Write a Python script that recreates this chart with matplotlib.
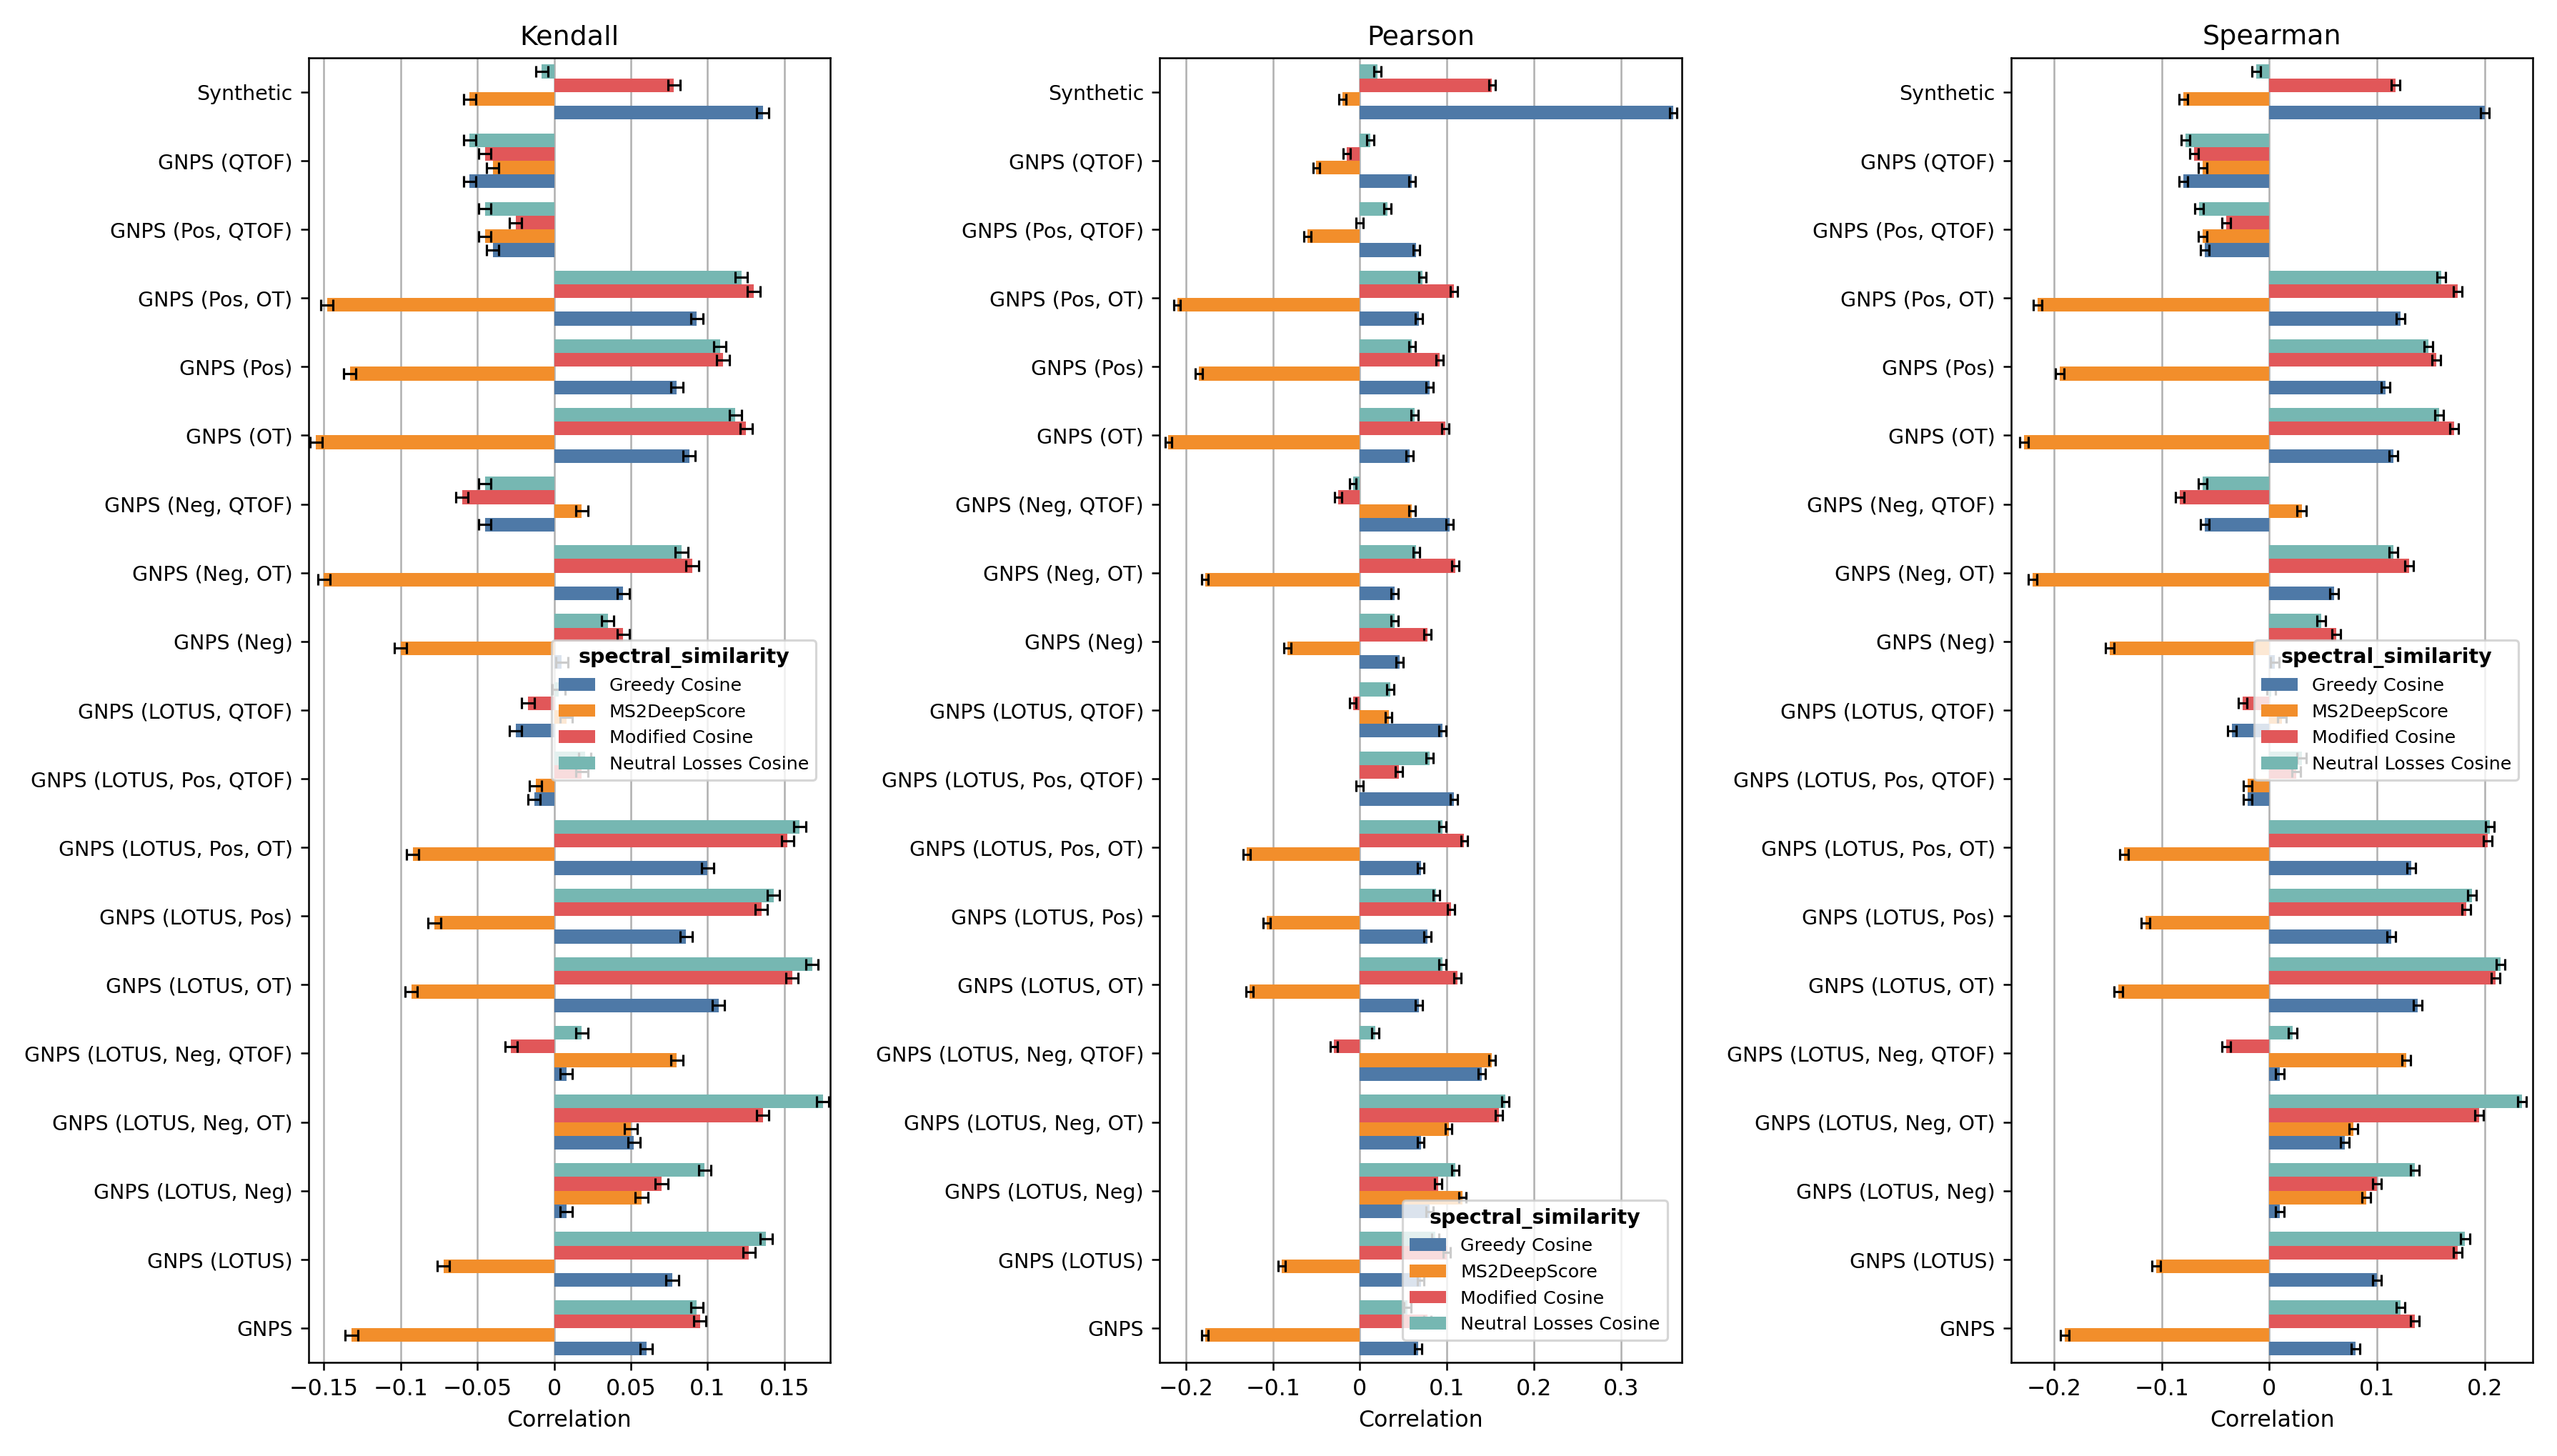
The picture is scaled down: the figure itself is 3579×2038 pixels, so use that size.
import numpy as np
import matplotlib.pyplot as plt

categories = ["Synthetic", "GNPS (QTOF)", "GNPS (Pos, QTOF)", "GNPS (Pos, OT)", "GNPS (Pos)",
              "GNPS (OT)", "GNPS (Neg, QTOF)", "GNPS (Neg, OT)", "GNPS (Neg)",
              "GNPS (LOTUS, QTOF)", "GNPS (LOTUS, Pos, QTOF)", "GNPS (LOTUS, Pos, OT)",
              "GNPS (LOTUS, Pos)", "GNPS (LOTUS, OT)", "GNPS (LOTUS, Neg, QTOF)",
              "GNPS (LOTUS, Neg, OT)", "GNPS (LOTUS, Neg)", "GNPS (LOTUS)", "GNPS"]
series = ["Greedy Cosine", "MS2DeepScore", "Modified Cosine", "Neutral Losses Cosine"]
colors = ["#4e79a7", "#f28e2b", "#e15759", "#76b7b2"]

# columns: Greedy, MS2DeepScore, Modified, Neutral Losses
kendall = [
    [0.136, -0.055, 0.078, -0.008], [-0.055, -0.040, -0.045, -0.055],
    [-0.040, -0.045, -0.025, -0.045], [0.093, -0.148, 0.130, 0.122],
    [0.080, -0.133, 0.110, 0.108], [0.088, -0.155, 0.125, 0.118],
    [-0.045, 0.018, -0.060, -0.045], [0.045, -0.150, 0.090, 0.083],
    [0.005, -0.100, 0.045, 0.035], [-0.025, 0.008, -0.017, 0.003],
    [-0.013, -0.012, 0.018, 0.020], [0.100, -0.092, 0.152, 0.160],
    [0.086, -0.078, 0.135, 0.143], [0.107, -0.093, 0.155, 0.168],
    [0.008, 0.080, -0.028, 0.018], [0.052, 0.050, 0.136, 0.175],
    [0.008, 0.057, 0.070, 0.098], [0.077, -0.072, 0.127, 0.138],
    [0.060, -0.132, 0.095, 0.093]]
pearson = [
    [0.360, -0.020, 0.152, 0.020], [0.060, -0.050, -0.015, 0.012],
    [0.065, -0.060, 0.000, 0.032], [0.068, -0.210, 0.108, 0.072],
    [0.080, -0.185, 0.092, 0.060], [0.057, -0.220, 0.098, 0.063],
    [0.103, 0.060, -0.025, -0.008], [0.040, -0.178, 0.110, 0.065],
    [0.046, -0.083, 0.078, 0.040], [0.095, 0.033, -0.008, 0.035],
    [0.108, 0.000, 0.045, 0.080], [0.070, -0.130, 0.120, 0.095],
    [0.078, -0.107, 0.105, 0.088], [0.068, -0.127, 0.112, 0.095],
    [0.140, 0.152, -0.030, 0.018], [0.070, 0.102, 0.160, 0.167],
    [0.080, 0.118, 0.090, 0.110], [0.070, -0.090, 0.100, 0.087],
    [0.067, -0.178, 0.078, 0.055]]
spearman = [
    [0.200, -0.080, 0.117, -0.012], [-0.080, -0.062, -0.070, -0.078],
    [-0.060, -0.062, -0.040, -0.065], [0.122, -0.215, 0.175, 0.160],
    [0.108, -0.195, 0.155, 0.148], [0.115, -0.228, 0.172, 0.158],
    [-0.060, 0.030, -0.083, -0.062], [0.060, -0.220, 0.130, 0.115],
    [0.005, -0.148, 0.062, 0.048], [-0.035, 0.012, -0.025, 0.002],
    [-0.020, -0.020, 0.025, 0.030], [0.132, -0.135, 0.203, 0.205],
    [0.113, -0.115, 0.183, 0.188], [0.138, -0.140, 0.210, 0.215],
    [0.010, 0.127, -0.040, 0.022], [0.070, 0.078, 0.195, 0.235],
    [0.010, 0.090, 0.100, 0.135], [0.100, -0.105, 0.175, 0.182],
    [0.080, -0.190, 0.135, 0.122]]
err = 0.004

panels = [("Kendall", kendall, (-0.16, 0.18), [-0.15, -0.1, -0.05, 0, 0.05, 0.1, 0.15],
           ["−0.15", "−0.1", "−0.05", "0", "0.05", "0.1", "0.15"], (0.99, 0.5)),
          ("Pearson", pearson, (-0.23, 0.37), [-0.2, -0.1, 0, 0.1, 0.2, 0.3],
           ["−0.2", "−0.1", "0", "0.1", "0.2", "0.3"], (0.99, 0.01)),
          ("Spearman", spearman, (-0.24, 0.245), [-0.2, -0.1, 0, 0.1, 0.2],
           ["−0.2", "−0.1", "0", "0.1", "0.2"], (0.99, 0.5))]

fig, axes = plt.subplots(1, 3, figsize=(15.7, 8.94), dpi=228)
n = len(categories)
ypos = np.arange(n)[::-1]
h = 0.2
for ax, (title, data, xlim, ticks, tlabels, lpos) in zip(axes, panels):
    data = np.array(data)
    for j, s in enumerate(series):
        ax.barh(ypos + (j - 1.5) * h, data[:, j], height=h, color=colors[j], label=s,
                xerr=err, error_kw=dict(capsize=2.5, elinewidth=1, capthick=1, ecolor="black"),
                zorder=2)
    ax.set_yticks(ypos)
    ax.set_yticklabels(categories, fontsize=9)
    ax.set_ylim(-0.5, n - 0.5)
    ax.set_xlim(*xlim)
    ax.set_xticks(ticks)
    ax.set_xticklabels(tlabels)
    ax.grid(axis="x", color="#b0b0b0", zorder=0)
    ax.set_axisbelow(True)
    ax.set_title(title, fontsize=12)
    ax.set_xlabel("Correlation")
    loc = "center right" if lpos[1] == 0.5 else "lower right"
    leg = ax.legend(title="spectral_similarity", fontsize=8, loc=loc, bbox_to_anchor=lpos)
    leg.get_title().set_fontweight("bold")
    leg.get_title().set_fontsize(9)

fig.tight_layout(w_pad=2)
fig.savefig("out.png")
